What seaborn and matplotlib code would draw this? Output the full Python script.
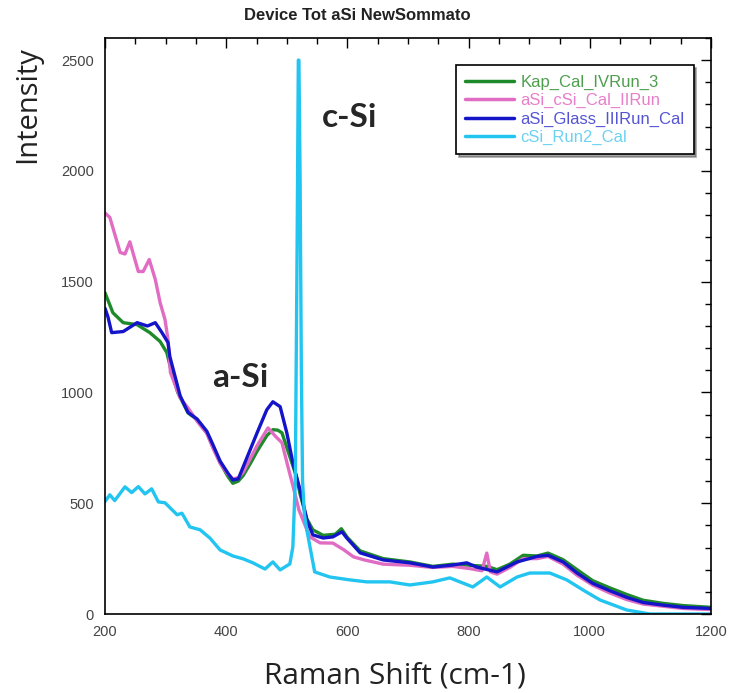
import numpy as np
import pandas as pd
import matplotlib
matplotlib.use("Agg")
import matplotlib.pyplot as plt
import seaborn as sns
from matplotlib.ticker import MultipleLocator

# ---- data ----
series_names = ["Kap_Cal_IVRun_3", "aSi_cSi_Cal_IIRun", "aSi_Glass_IIIRun_Cal", "cSi_Run2_Cal"]

kap_x = [200, 213, 230, 253, 274, 291, 302, 310, 320, 337, 352, 368, 378, 390, 403, 411, 420, 428, 440, 451,
         467, 477, 485, 492, 505, 516, 522, 533, 543, 560, 580, 590, 600, 621, 659, 703, 741, 774, 802, 830,
         847, 868, 890, 913, 931, 956, 979, 1005, 1033, 1061, 1088, 1121, 1154, 1200]
kap_y = [1450, 1360, 1315, 1306, 1270, 1230, 1180, 1090, 1000, 908, 877, 818, 755, 683, 620, 590, 600, 625, 680, 735,
         805, 832, 830, 818, 710, 620, 540, 430, 380, 355, 360, 385, 345, 285, 250, 235, 215, 225, 220, 215,
         200, 225, 265, 262, 275, 245, 200, 150, 118, 88, 62, 48, 38, 30]

acs_x = [200, 208, 225, 233, 241, 255, 263, 273, 283, 291, 299, 304, 308, 324, 337, 352, 368, 378, 390, 403,
         411, 420, 428, 451, 469, 482, 492, 502, 510, 520, 538, 555, 576, 594, 610, 628, 659, 703, 741, 774,
         802, 822, 830, 836, 847, 868, 890, 913, 931, 956, 979, 1005, 1033, 1061, 1088, 1121, 1154, 1200]
acs_y = [1810, 1790, 1632, 1625, 1680, 1546, 1546, 1600, 1510, 1405, 1329, 1238, 1090, 975, 930, 870, 815, 750, 680, 630,
         610, 615, 640, 760, 840, 800, 773, 664, 580, 470, 348, 321, 320, 290, 258, 244, 225, 220, 210, 215,
         205, 195, 275, 190, 180, 210, 250, 250, 260, 225, 175, 130, 95, 65, 45, 35, 25, 20]

agl_x = [200, 205, 211, 230, 253, 270, 283, 294, 304, 307, 324, 337, 352, 368, 378, 390, 403, 411, 420, 428,
         451, 467, 477, 489, 500, 510, 516, 522, 533, 543, 560, 576, 591, 599, 621, 659, 703, 741, 774, 797,
         813, 847, 880, 913, 931, 956, 979, 1005, 1033, 1061, 1088, 1121, 1154, 1200]
agl_y = [1380, 1340, 1270, 1275, 1315, 1300, 1315, 1270, 1225, 1162, 985, 910, 880, 825, 765, 690, 635, 605, 610, 664,
         818, 922, 958, 936, 818, 683, 619, 560, 425, 357, 343, 348, 371, 343, 276, 244, 231, 212, 221, 231,
         212, 190, 235, 260, 265, 235, 185, 138, 105, 75, 52, 40, 30, 25]

csi_x = [200, 208, 216, 233, 244, 255, 266, 277, 288, 299, 319, 327, 340, 357, 373, 390, 411, 428, 444, 464,
         477, 489, 505, 510, 514, 517, 519, 520, 522, 524, 526, 529, 533, 546, 571, 604, 632, 670, 703, 741,
         769, 807, 830, 852, 880, 901, 934, 962, 989, 1017, 1061, 1099, 1150, 1200]
csi_y = [508, 538, 512, 574, 548, 575, 542, 565, 506, 502, 448, 455, 393, 380, 343, 289, 262, 249, 231, 203,
         235, 199, 226, 303, 600, 1650, 2500, 2500, 1950, 1100, 600, 450, 380, 190, 167, 154, 145, 145, 131, 145,
         163, 122, 167, 122, 167, 185, 185, 154, 108, 63, 18, 0, 0, 0]

line_colors = ["#1f8a2a", "#e06cc4", "#1414c8", "#22c4f0"]
text_colors = ["#4e9e4e", "#e77fcb", "#5454d4", "#6cd2f2"]

frames = []
for name, xs, ys in zip(series_names, [kap_x, acs_x, agl_x, csi_x], [kap_y, acs_y, agl_y, csi_y]):
    frames.append(pd.DataFrame({"x": xs, "y": ys, "series": name}))
df = pd.concat(frames, ignore_index=True)

# ---- plot ----
sns.set_style("white")
fig = plt.figure(figsize=(7.31, 6.93), dpi=100)
ax = fig.add_axes([105 / 731, 1 - 614 / 693, (711 - 105) / 731, (614 - 38) / 693])

sns.lineplot(data=df, x="x", y="y", hue="series", hue_order=series_names,
             palette=dict(zip(series_names, line_colors)), estimator=None, sort=False,
             linewidth=2.4, ax=ax)

ax.set_xlim(200, 1200)
ax.set_ylim(0, 2600)
ax.xaxis.set_major_locator(MultipleLocator(200))
ax.xaxis.set_minor_locator(MultipleLocator(50))
ax.yaxis.set_major_locator(MultipleLocator(500))
ax.yaxis.set_minor_locator(MultipleLocator(100))
ax.tick_params(which="both", direction="in", top=True, right=True, colors="black",
               labelcolor="#444444", labelsize=10.5)
ax.tick_params(which="major", length=7, width=1)
ax.tick_params(which="minor", length=4, width=1)
for lab in ax.get_xticklabels() + ax.get_yticklabels():
    lab.set_family("Liberation Sans")
ax.tick_params(axis="x", pad=8)
ax.tick_params(axis="y", pad=8)
for s in ax.spines.values():
    s.set_color("black")
    s.set_linewidth(1.2)

ax.set_xlabel("Raman Shift (cm-1)", fontsize=21.5, family="Open Sans", color="#222222",
              va="center", ha="center")
ax.xaxis.set_label_coords(0.478, -0.108)
ax.set_ylabel("Intensity", fontsize=21, family="Open Sans", color="#222222",
              va="center", ha="center")
ax.yaxis.set_label_coords(-0.128, 0.884)
fig.text(357 / 731, 1 - 16 / 693, "Device Tot aSi NewSommato", ha="center", va="center",
         fontsize=12, fontweight="bold", family="Liberation Sans", color="#222222")

ax.text(423, 1067, "a-Si", fontsize=24, fontweight="bold", family="Lato", ha="center", va="center")
ax.text(604, 2242, "c-Si", fontsize=24, fontweight="bold", family="Lato", ha="center", va="center")

leg = ax.legend(loc="upper right", bbox_to_anchor=(0.985, 0.967),
                frameon=True, fancybox=False, shadow=True, handlelength=2.9,
                borderpad=0.55, labelspacing=0.2, handletextpad=0.4,
                prop={"family": "Liberation Sans", "size": 12})
leg.get_frame().set_edgecolor("black")
leg.get_frame().set_linewidth(1.2)
for t, c in zip(leg.get_texts(), text_colors):
    t.set_color(c)
for h in leg.get_lines():
    h.set_linewidth(2.5)

fig.savefig("out.png", dpi=100)
